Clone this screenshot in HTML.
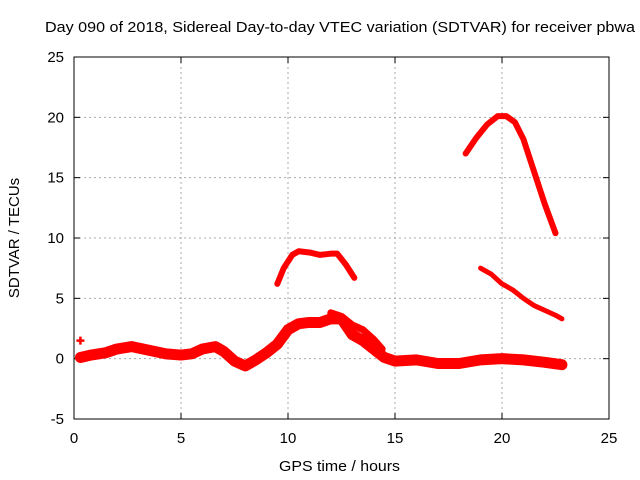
<!DOCTYPE html>
<html><head><meta charset="utf-8"><style>
body{margin:0;background:#fff;}
svg{display:block;font-family:"Liberation Sans",sans-serif;}
</style></head><body>
<svg id="c" width="640" height="480">
<text x="45" y="32" font-size="15" textLength="590" lengthAdjust="spacingAndGlyphs">Day 090 of 2018, Sidereal Day-to-day VTEC variation (SDTVAR) for receiver pbwa</text>
<text x="279" y="471" font-size="15" textLength="121" lengthAdjust="spacingAndGlyphs">GPS time / hours</text>
<text transform="translate(19,238) rotate(-90)" text-anchor="middle" font-size="15">SDTVAR / TECUs</text>
<g id="grid"></g><g id="marks"></g>
<rect x="74" y="57" width="535" height="362" fill="none" stroke="#000"/>
</svg>
<script>
const xTicks=[0,5,10,15,20,25];
const yTicks=[-5,0,5,10,15,20,25];
const baseX=[0.3,0.8,1.5,2,2.7,3.5,4.3,5,5.5,6,6.6,7,7.5,8,8.5,9,9.5,10,10.5,11,11.5,12,12.5,13,13.5,14,14.5,15,16,17,18,19,20,21,22,22.8];
const baseY=[0.1,0.3,0.5,0.8,1.0,0.7,0.4,0.3,0.4,0.8,1.0,0.6,-0.2,-0.6,-0.1,0.5,1.2,2.4,2.9,3.0,3.0,3.3,3.3,2.0,1.5,0.8,0.1,-0.2,-0.1,-0.4,-0.4,-0.1,0.0,-0.1,-0.3,-0.5];
const branchAX=[12,12.5,13,13.5,14,14.4];
const branchAY=[3.8,3.5,2.8,2.4,1.6,0.8];
const branchBX=[6.8,7.2,7.6,8.0,8.3];
const branchBY=[0.9,0.4,-0.1,-0.4,-0.3];
const humpX=[9.5,9.8,10.2,10.5,11,11.5,12,12.3,12.7,13.1];
const humpY=[6.2,7.5,8.6,8.9,8.8,8.6,8.7,8.7,7.8,6.7];
const bigX=[18.3,18.8,19.3,19.8,20.2,20.6,21,21.5,22,22.5];
const bigY=[17.0,18.3,19.4,20.1,20.1,19.6,18.2,15.5,12.8,10.4];
const declX=[19,19.5,20,20.5,21,21.5,22,22.5,22.8];
const declY=[7.5,7.0,6.2,5.7,5.0,4.4,4.0,3.6,3.3];
const outX=[0.3], outY=[1.5];
const X0=74,X1=609,Y0=419,Y1=57;
const sx=v=>X0+(v-0)/25*(X1-X0);
const sy=v=>Y0-(v+5)/30*(Y0-Y1);
const NS="http://www.w3.org/2000/svg";
const grid=document.getElementById('grid'),marks=document.getElementById('marks');
function mk(t,a,p){const e=document.createElementNS(NS,t);for(const k in a)e.setAttribute(k,a[k]);p.appendChild(e);return e;}
xTicks.forEach(t=>{const x=sx(t);
 if(t>0&&t<25){const g=mk('line',{x1:x,x2:x,y1:Y1,y2:Y0,stroke:'#aaa','stroke-dasharray':'2,3'},grid);
 
 }
 mk('line',{x1:x,x2:x,y1:Y0,y2:Y0-6,stroke:'#000'},grid);
 mk('line',{x1:x,x2:x,y1:Y1,y2:Y1+6,stroke:'#000'},grid);
 const l=mk('text',{x:x,y:Y0+24,'text-anchor':'middle','font-size':15},grid);l.textContent=t;
 
 });
yTicks.forEach(t=>{const y=sy(t);
 if(t>-5&&t<25){const g=mk('line',{x1:X0,x2:X1,y1:y,y2:y,stroke:'#aaa','stroke-dasharray':'2,3'},grid);
 
 }
 mk('line',{x1:X0,x2:X0+6,y1:y,y2:y,stroke:'#000'},grid);
 mk('line',{x1:X1,x2:X1-6,y1:y,y2:y,stroke:'#000'},grid);
 const l=mk('text',{x:X0-10,y:y+5,'text-anchor':'end','font-size':15},grid);l.textContent=t;
 
 });
function series(xs,ys,w,name){
 const pts=xs.map((v,i)=>sx(v)+','+sy(ys[i])).join(' ');
 const p=mk('polyline',{points:pts,fill:'none',stroke:'#f00','stroke-width':w,'stroke-linejoin':'round','stroke-linecap':'round'},marks);
 
 
}
series(baseX,baseY,11,'baseline-series');
series(branchAX,branchAY,7,'branch-a-series');
series(branchBX,branchBY,6,'branch-b-series');
series(humpX,humpY,6,'hump-series');
series(bigX,bigY,6,'peak-series');
series(declX,declY,5,'decline-series');
outX.forEach((v,i)=>{const x=sx(v),y=sy(outY[i]);
 const g=mk('path',{d:`M${x-4},${y}H${x+4}M${x},${y-4}V${y+4}`,stroke:'#f00','stroke-width':2.5},marks);
 
 });
</script>
</body></html>
